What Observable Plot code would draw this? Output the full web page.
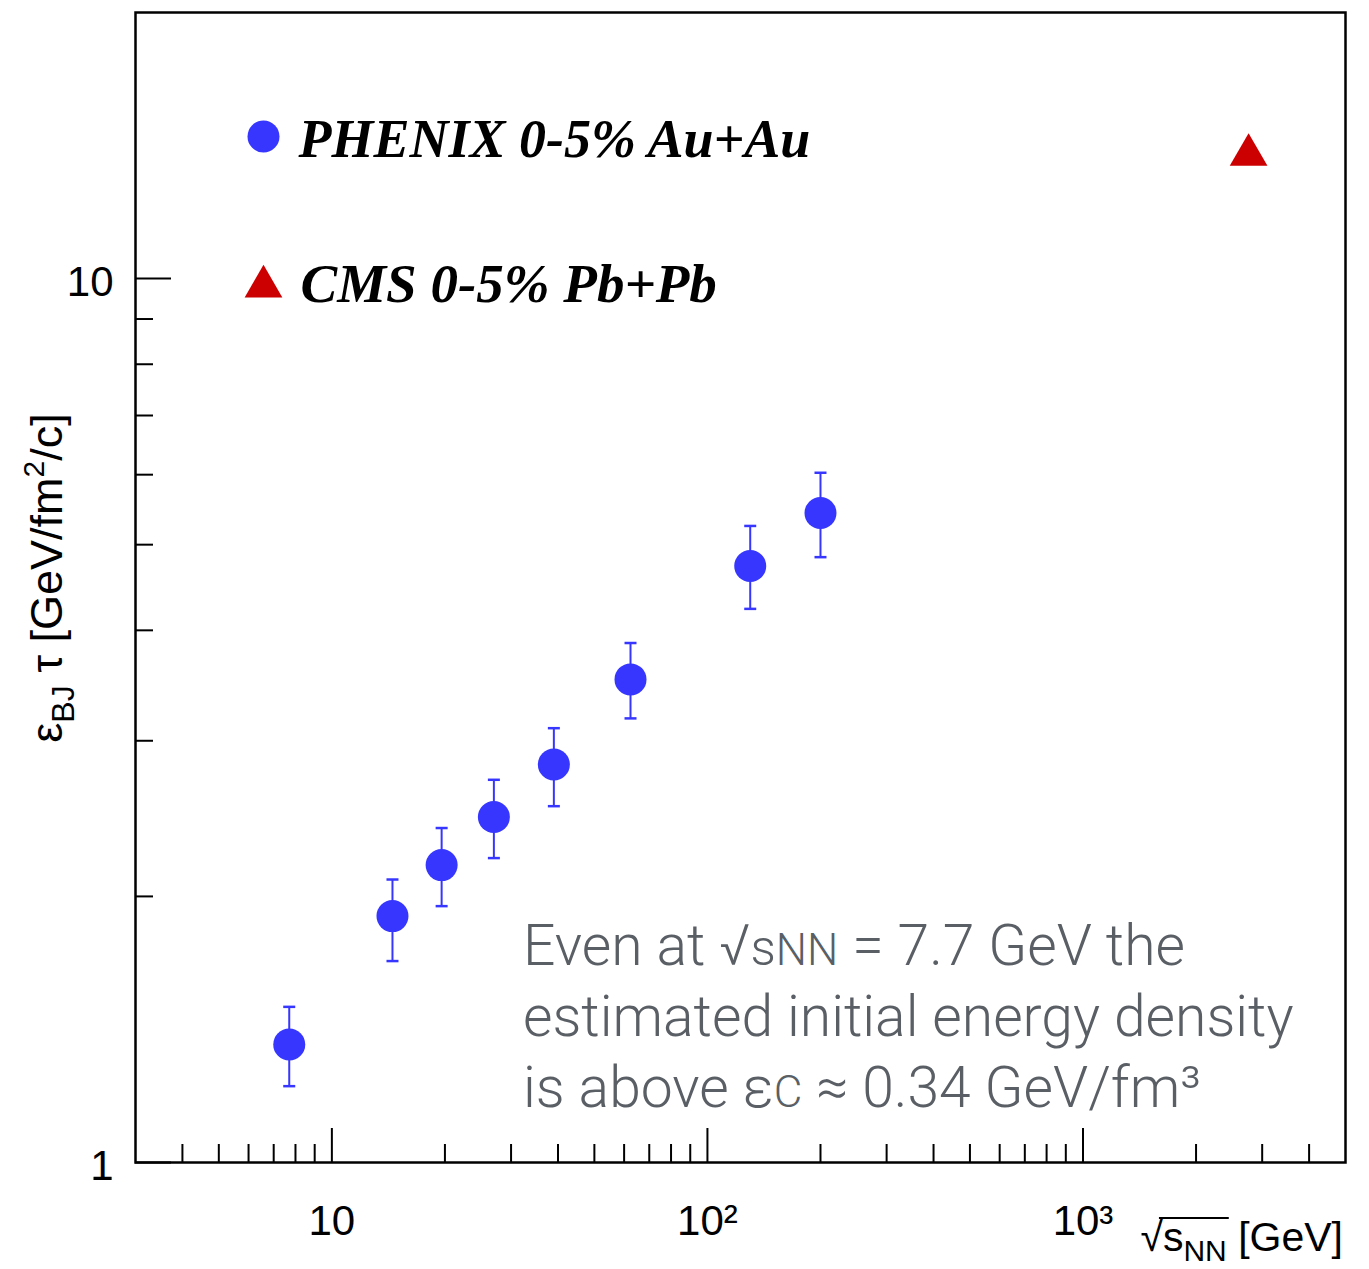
<!DOCTYPE html>
<html>
<head>
<meta charset="utf-8">
<script src="https://cdn.jsdelivr.net/npm/d3@7"></script>
<script src="https://cdn.jsdelivr.net/npm/@observablehq/plot@0.6"></script>
<style>
  html, body { margin: 0; padding: 0; background: #fff; }
  #chart svg { display: block; }
</style>
</head>
<body>
<div id="chart"></div>
<script>
// ---------------- data ----------------
const phenixSqrtS   = [7.7, 14.5, 19.6, 27, 39, 62.4, 130, 200];
const phenixValue   = [1.36, 1.90, 2.17, 2.46, 2.82, 3.52, 4.73, 5.43];
const phenixErrLow  = [1.22, 1.69, 1.95, 2.21, 2.53, 3.18, 4.23, 4.84];
const phenixErrHigh = [1.50, 2.09, 2.39, 2.71, 3.10, 3.87, 5.25, 6.03];

const cmsSqrtS = [2760];
const cmsValue = [13.8];

const xMajorTicks = [10, 100, 1000];
const xTickLabels = ["10", "10\u00B2", "10\u00B3"];
const xMinorTicks = [4, 5, 6, 7, 8, 9, 20, 30, 40, 50, 60, 70, 80, 90,
                     200, 300, 400, 500, 600, 700, 800, 900, 2000, 3000, 4000];
const yMajorTicks = [1, 10];
const yTickLabels = ["1", "10"];
const yMinorTicks = [2, 3, 4, 5, 6, 7, 8, 9];

const legendLabels = ["PHENIX 0-5% Au+Au", "CMS 0-5% Pb+Pb"];

// ---------------- layout ----------------
const W = 1369, H = 1269;
const mL = 135, mR = 24, mT = 12, mB = 107;
const innerW = W - mL - mR;
const innerH = H - mT - mB;

const blue = "#3636ff";
const red = "#cc0000";

const phenix = phenixSqrtS.map((s, i) => ({s, v: phenixValue[i], lo: phenixErrLow[i], hi: phenixErrHigh[i]}));
const cms = cmsSqrtS.map((s, i) => ({s, v: cmsValue[i]}));

const hline = {
  draw(ctx, size) {
    const w = Math.sqrt(size / Math.PI);
    ctx.moveTo(-w, 0);
    ctx.lineTo(w, 0);
  }
};

const tickFont = {fontSize: 42, fontFamily: "Liberation Sans, Arial, sans-serif", fill: "black"};
const legendFont = {fontSize: 54, fontFamily: "Liberation Serif, Times New Roman, serif",
                    fontWeight: "bold", fontStyle: "italic", fill: "black"};

const plot = Plot.plot({
  width: W, height: H,
  marginLeft: mL, marginRight: mR, marginTop: mT, marginBottom: mB,
  x: {type: "log", domain: [3, 5000], axis: null},
  y: {type: "log", domain: [1, 20], axis: null},
  style: {background: "white"},
  marks: [
    // inward ticks
    Plot.ruleX(xMinorTicks, {x: d => d, insetTop: innerH - 18, stroke: "black", strokeWidth: 2}),
    Plot.ruleX(xMajorTicks, {x: d => d, insetTop: innerH - 34, stroke: "black", strokeWidth: 2}),
    Plot.ruleY(yMinorTicks, {y: d => d, insetRight: innerW - 18, stroke: "black", strokeWidth: 2}),
    Plot.ruleY(yMajorTicks, {y: d => d, insetRight: innerW - 36, stroke: "black", strokeWidth: 2}),
    // tick labels
    Plot.text(xMajorTicks, {x: d => d, frameAnchor: "bottom", text: (d, i) => xTickLabels[i],
      lineAnchor: "top", textAnchor: "middle", dy: 43, ...tickFont}),
    Plot.text(yMajorTicks, {y: d => d, frameAnchor: "left", text: (d, i) => yTickLabels[i],
      textAnchor: "end", dx: -22, dy: 4, ...tickFont}),
    Plot.frame({stroke: "black", strokeWidth: 2.5}),
    // PHENIX error bars
    Plot.ruleX(phenix, {x: "s", y1: "lo", y2: "hi", stroke: blue, strokeWidth: 2}),
    Plot.dot(phenix, {x: "s", y: "lo", symbol: hline, r: 6, stroke: blue, strokeWidth: 2.5}),
    Plot.dot(phenix, {x: "s", y: "hi", symbol: hline, r: 6, stroke: blue, strokeWidth: 2.5}),
    // points
    Plot.dot(phenix, {x: "s", y: "v", r: 16, fill: blue}),
    Plot.dot(cms, {x: "s", y: "v", symbol: "triangle", r: 14, fill: red}),
    // legend
    Plot.dot([0], {frameAnchor: "top-left", dx: 128, dy: 124, r: 16, fill: blue}),
    Plot.dot([0], {frameAnchor: "top-left", dx: 128, dy: 274, r: 14, symbol: "triangle", fill: red}),
    Plot.text([legendLabels[0]], {frameAnchor: "top-left", text: d => d, dx: 163, dy: 106,
      lineAnchor: "top", textAnchor: "start", ...legendFont}),
    Plot.text([legendLabels[1]], {frameAnchor: "top-left", text: d => d, dx: 165, dy: 250,
      lineAnchor: "top", textAnchor: "start", ...legendFont, fontSize: 55})
  ]
});

document.getElementById("chart").appendChild(plot);

const svg = d3.select(plot);

// ---------------- annotation ----------------
const ann = svg.append("text")
  .attr("text-anchor", "start")
  .attr("font-family", "Roboto, 'Liberation Sans', sans-serif")
  .attr("font-weight", 300)
  .attr("font-size", 57)
  .attr("fill", "#5a5f66");
const annX = 523;
// line 1
ann.append("tspan").attr("x", annX).attr("y", 965).text("Even at \u221A");
ann.append("tspan").attr("font-size", 50).text("s");
ann.append("tspan").attr("font-size", 44).text("NN");
ann.append("tspan").text(" = 7.7 GeV the");
// line 2
ann.append("tspan").attr("x", annX).attr("y", 1036).text("estimated initial energy density");
// line 3
ann.append("tspan").attr("x", annX).attr("y", 1107).text("is above \u03B5");
ann.append("tspan").attr("font-size", 44).text("C");
ann.append("tspan").text(" \u2248 0.34 GeV/fm\u00B3");

// ---------------- y-axis title ----------------
const yt = svg.append("text")
  .attr("transform", "translate(62,578) rotate(-90)")
  .attr("text-anchor", "middle")
  .attr("font-family", "Liberation Sans, Arial, sans-serif")
  .attr("font-size", 45)
  .attr("fill", "black");
yt.append("tspan").text("\u03B5");
yt.append("tspan").attr("font-size", 32).attr("dy", 12).text("BJ");
yt.append("tspan").attr("dy", -12).text(" \u03C4 [GeV/fm");
yt.append("tspan").attr("font-size", 30).attr("dy", -18).text("2");
yt.append("tspan").attr("dy", 18).text("/c]");

// ---------------- x-axis title ----------------
const xt = svg.append("text")
  .attr("x", 1343).attr("y", 1251)
  .attr("text-anchor", "end")
  .attr("font-family", "Liberation Sans, Arial, sans-serif")
  .attr("font-size", 41)
  .attr("fill", "black");
xt.append("tspan").text("\u221A");
const tS = xt.append("tspan").text("s");
const tNN = xt.append("tspan").attr("font-size", 30).attr("dy", 10).text("NN");
xt.append("tspan").attr("dy", -10).text(" [GeV]");
// overline of the radical
try {
  const x0 = tS.node().getStartPositionOfChar(0).x;
  const x1 = tNN.node().getEndPositionOfChar(1).x;
  svg.append("line").attr("x1", x0 - 4).attr("x2", x1 + 2).attr("y1", 1218).attr("y2", 1218)
    .attr("stroke", "black").attr("stroke-width", 2);
} catch (e) {}
</script>
</body>
</html>
